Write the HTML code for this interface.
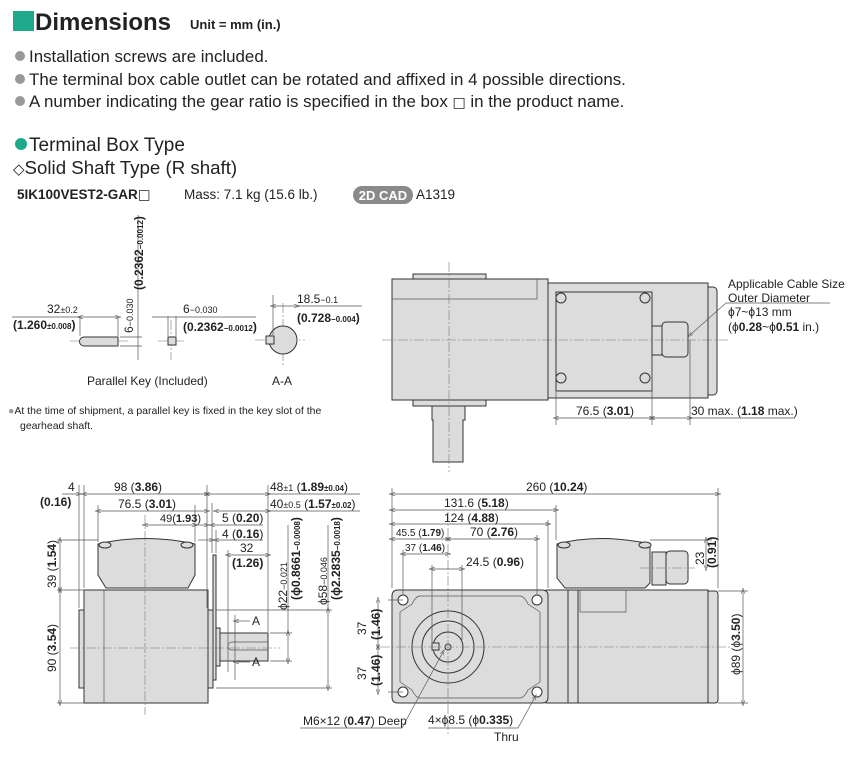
<!DOCTYPE html>
<html><head><meta charset="utf-8"><style>
body{margin:0;background:#fff;width:850px;height:780px;overflow:hidden}
svg{display:block}
.t{font-family:"Liberation Sans Narrow","Liberation Sans",sans-serif;fill:#222}
.h{font-family:"Liberation Sans",sans-serif;fill:#222}
.b{font-weight:bold}
.s{fill:#dcdcdc;stroke:#333;stroke-width:1}
.l{stroke:#555;stroke-width:0.7;fill:none}
.c{stroke:#777;stroke-width:0.6;stroke-dasharray:10 2 2 2;fill:none}
.d{stroke:#555;stroke-width:0.7;fill:none;marker-start:url(#a);marker-end:url(#a)}
</style></head><body>
<svg width="850" height="780" viewBox="0 0 850 780" xmlns="http://www.w3.org/2000/svg">
<defs><marker id="a" viewBox="0 0 10 10" refX="5" refY="5" markerWidth="8" markerHeight="8" orient="auto-start-reverse"><path d="M0,2 L10,5 L0,8" fill="none" stroke="#555" stroke-width="1"/></marker></defs>

<!-- header -->
<rect x="13" y="11" width="21" height="20" fill="#1eaa8a"/>
<text x="35" y="30" class="h b" font-size="24">Dimensions</text>
<text x="190" y="29" class="h b" font-size="13">Unit = mm (in.)</text>
<g class="h" font-size="16.9">
<circle cx="20" cy="56" r="5" fill="#999"/><text x="29" y="62">Installation screws are included.</text>
<circle cx="20" cy="79" r="5" fill="#999"/><text x="29" y="85">The terminal box cable outlet can be rotated and affixed in 4 possible directions.</text>
<circle cx="20" cy="101" r="5" fill="#999"/><text x="29" y="107">A number indicating the gear ratio is specified in the box <tspan font-family="DejaVu Sans" font-size="14">□</tspan> in the product name.</text>
</g>
<circle cx="21" cy="144" r="6" fill="#1eaa8a"/>
<text x="29" y="151" class="h" font-size="19">Terminal Box Type</text>
<text x="13" y="174" class="h" font-size="18.7"><tspan font-family="DejaVu Sans" font-size="15">◇</tspan>Solid Shaft Type (R shaft)</text>
<text x="17" y="199" class="h b" font-size="13.5">5IK100VEST2-GAR<tspan font-family="DejaVu Sans" font-weight="normal">□</tspan></text>
<text x="184" y="199" class="h" font-size="13.5" fill="#444">Mass: 7.1 kg (15.6 lb.)</text>
<rect x="353" y="186" width="60" height="18" rx="9" fill="#8a8a8a"/>
<text x="383" y="200" class="h b" font-size="13" text-anchor="middle" style="fill:#fff">2D CAD</text>
<text x="416" y="199" class="h" font-size="13.5" fill="#444">A1319</text>

<!-- parallel key -->
<g class="t" font-size="12">
<line class="c" x1="70" y1="341" x2="130" y2="341"/>
<path class="s" d="M84,337 H118 V346 H84 A4.5,4.5 0 0 1 84,337 Z"/>
<line class="l" x1="80" y1="317" x2="80" y2="336"/><line class="l" x1="118" y1="317" x2="118" y2="336"/>
<line class="d" x1="80" y1="317" x2="118" y2="317"/>
<line class="l" x1="12" y1="317" x2="80" y2="317"/>
<text x="47" y="313">32<tspan font-size="9">±0.2</tspan></text>
<text x="13" y="329" class="b">(1.260<tspan font-size="8">±0.008</tspan>)</text>
<line class="l" x1="120" y1="337" x2="142" y2="337"/><line class="l" x1="120" y1="346" x2="142" y2="346"/>
<line class="l" x1="138" y1="215" x2="138" y2="360"/>
<text transform="translate(133,333) rotate(-90)">6<tspan font-size="9">−0.030</tspan></text>
<text transform="translate(143,290) rotate(-90)" class="b">(0.2362<tspan font-size="8">−0.0012</tspan>)</text>
<line class="c" x1="158" y1="341" x2="186" y2="341"/>
<line class="c" x1="171" y1="320" x2="171" y2="360"/>
<rect class="s" x="168" y="337" width="8" height="8"/>
<line class="l" x1="168" y1="316" x2="168" y2="336"/><line class="l" x1="176" y1="316" x2="176" y2="336"/>
<line class="l" x1="152" y1="317" x2="256" y2="317"/>
<text x="183" y="313">6<tspan font-size="9">−0.030</tspan></text>
<text x="183" y="331" class="b">(0.2362<tspan font-size="8">−0.0012</tspan>)</text>
<line class="c" x1="255" y1="340" x2="305" y2="340"/>
<line class="c" x1="283" y1="303" x2="283" y2="365"/>
<circle class="s" cx="283" cy="340" r="14"/>
<rect class="s" x="266" y="336" width="8" height="8"/>
<line class="l" x1="273" y1="295" x2="273" y2="335"/>
<line class="d" x1="273" y1="306" x2="297" y2="306"/>
<line class="l" x1="297" y1="306" x2="362" y2="306"/>
<text x="297" y="303">18.5<tspan font-size="9">−0.1</tspan></text>
<text x="297" y="322" class="b">(0.728<tspan font-size="8">−0.004</tspan>)</text>
<text x="87" y="385">Parallel Key (Included)</text>
<text x="272" y="385">A-A</text>
<text x="8" y="414" font-size="10.5"><tspan fill="#999">●</tspan>At the time of shipment, a parallel key is fixed in the key slot of the</text>
<text x="20" y="429" font-size="10.5">gearhead shaft.</text>
</g>

<!-- top right view -->
<g class="t" font-size="12">
<rect class="s" x="413" y="274" width="73" height="6"/>
<rect class="s" x="413" y="400" width="73" height="6"/>
<path class="s" d="M432,406 H465 V420 H463 V462 H433 V420 H432 Z"/>
<rect class="s" x="705" y="287" width="12" height="108" rx="4"/>
<rect class="s" x="546" y="283" width="162" height="115"/>
<rect class="s" x="392" y="279" width="156" height="121"/>
<path class="l" d="M392,299 H537 V279"/>
<rect class="s" x="556" y="292" width="96" height="99"/>
<g class="s"><circle cx="561" cy="298" r="5"/><circle cx="645" cy="298" r="5"/><circle cx="561" cy="378" r="5"/><circle cx="645" cy="378" r="5"/></g>
<rect class="s" x="652" y="326" width="10" height="29"/>
<rect class="s" x="662" y="322" width="26" height="35" rx="4"/>
<line class="c" x1="382" y1="340" x2="730" y2="340"/>
<line class="c" x1="449" y1="262" x2="449" y2="472"/>
<line class="l" x1="556" y1="392" x2="556" y2="425"/><line class="l" x1="652" y1="356" x2="652" y2="425"/><line class="l" x1="690" y1="340" x2="690" y2="425"/>
<line class="d" x1="556" y1="418" x2="652" y2="418"/>
<line class="d" x1="652" y1="418" x2="690" y2="418"/>
<line class="l" x1="690" y1="418" x2="795" y2="418"/>
<text x="576" y="415">76.5 (<tspan class="b">3.01</tspan>)</text>
<text x="691" y="415">30 max. (<tspan class="b">1.18</tspan> max.)</text>
<line class="l" x1="690" y1="335" x2="726" y2="303" marker-start="url(#a)"/>
<line class="l" x1="726" y1="303" x2="830" y2="303"/>
<text x="728" y="288">Applicable Cable Size</text>
<text x="728" y="302">Outer Diameter</text>
<text x="728" y="316">ϕ7~ϕ13 mm</text>
<text x="728" y="331">(ϕ<tspan class="b">0.28</tspan>~ϕ<tspan class="b">0.51</tspan> in.)</text>
</g>

<!-- bottom left side view -->
<g class="t" font-size="12">
<path class="s" d="M98,544 Q145,533 195,544 V575 L188,588 H106 L98,575 Z"/>
<ellipse class="s" cx="105" cy="545" rx="6" ry="3"/><ellipse class="s" cx="187" cy="545" rx="6" ry="3"/>
<rect class="s" x="79" y="610" width="6" height="78"/>
<rect class="s" x="207" y="610" width="6" height="78"/>
<rect class="s" x="213" y="555" width="3" height="125"/>
<rect class="s" x="84" y="590" width="124" height="113"/>
<line class="l" x1="104" y1="590" x2="104" y2="703"/>
<rect class="s" x="216" y="628" width="4" height="38"/>
<rect class="s" x="220" y="633" width="48" height="28"/>
<path class="l" d="M268,642 H232 A4,4 0 0 0 232,650 H268"/>
<line class="c" x1="145" y1="515" x2="145" y2="715"/>
<line class="c" x1="70" y1="648" x2="280" y2="648"/>
<line class="l" x1="79" y1="485" x2="79" y2="608"/><line class="l" x1="84" y1="485" x2="84" y2="588"/>
<line class="l" x1="207" y1="485" x2="207" y2="608"/><line class="l" x1="212" y1="503" x2="212" y2="553"/><line class="l" x1="216" y1="530" x2="216" y2="553"/>
<line class="l" x1="268" y1="485" x2="268" y2="632"/><line class="l" x1="228" y1="550" x2="228" y2="672"/>
<line class="l" x1="98" y1="505" x2="98" y2="542"/><line class="l" x1="195" y1="505" x2="195" y2="542"/>
<line class="l" x1="57" y1="540" x2="98" y2="540"/><line class="l" x1="57" y1="590" x2="84" y2="590"/><line class="l" x1="57" y1="703" x2="84" y2="703"/>
<line class="d" x1="60" y1="540" x2="60" y2="590"/><line class="d" x1="60" y1="590" x2="60" y2="703"/>
<text transform="translate(56,588) rotate(-90)">39 (<tspan class="b">1.54</tspan>)</text>
<text transform="translate(56,672) rotate(-90)">90 (<tspan class="b">3.54</tspan>)</text>
<line class="l" x1="62" y1="494" x2="79" y2="494" marker-end="url(#a)"/>
<line class="d" x1="84" y1="494" x2="207" y2="494"/>
<line class="d" x1="207" y1="494" x2="268" y2="494"/>
<line class="l" x1="268" y1="494" x2="360" y2="494"/>
<text x="68" y="491">4</text><text x="40" y="506" class="b">(0.16)</text>
<text x="114" y="491">98 (<tspan class="b">3.86</tspan>)</text>
<text x="270" y="491">48<tspan font-size="9">±1</tspan> (<tspan class="b">1.89<tspan font-size="8">±0.04</tspan></tspan>)</text>
<line class="d" x1="98" y1="511" x2="207" y2="511"/>
<line class="d" x1="216" y1="511" x2="268" y2="511"/>
<line class="l" x1="268" y1="511" x2="360" y2="511"/>
<text x="118" y="508">76.5 (<tspan class="b">3.01</tspan>)</text>
<text x="270" y="508">40<tspan font-size="9">±0.5</tspan> (<tspan class="b">1.57<tspan font-size="8">±0.02</tspan></tspan>)</text>
<line class="d" x1="145" y1="525" x2="195" y2="525"/>
<text x="160" y="522" font-size="11">49(<tspan class="b">1.93</tspan>)</text>
<line class="l" x1="195" y1="525" x2="207" y2="525" marker-end="url(#a)"/>
<line class="l" x1="212" y1="525" x2="263" y2="525" marker-start="url(#a)"/>
<text x="222" y="522">5 (<tspan class="b">0.20</tspan>)</text>
<line class="l" x1="198" y1="540" x2="212" y2="540" marker-end="url(#a)"/>
<line class="l" x1="216" y1="540" x2="263" y2="540" marker-start="url(#a)"/>
<text x="222" y="538">4 (<tspan class="b">0.16</tspan>)</text>
<line class="d" x1="228" y1="555" x2="268" y2="555"/>
<text x="240" y="552">32</text><text x="232" y="567" class="b">(1.26)</text>
<line class="l" x1="270" y1="633" x2="292" y2="633"/><line class="l" x1="270" y1="661" x2="292" y2="661"/>
<line class="d" x1="288" y1="633" x2="288" y2="661"/>
<line class="l" x1="216" y1="610" x2="332" y2="610"/><line class="l" x1="216" y1="688" x2="332" y2="688"/>
<line class="d" x1="328" y1="610" x2="328" y2="688"/>
<line class="l" x1="288" y1="525" x2="288" y2="633"/><line class="l" x1="328" y1="525" x2="328" y2="610"/>
<text transform="translate(287,610) rotate(-90)">ϕ22<tspan font-size="9">−0.021</tspan></text>
<text transform="translate(300,600) rotate(-90)" class="b">(ϕ0.8661<tspan font-size="8">−0.0008</tspan>)</text>
<text transform="translate(327,605) rotate(-90)">ϕ58<tspan font-size="9">−0.046</tspan></text>
<text transform="translate(340,600) rotate(-90)" class="b">(ϕ2.2835<tspan font-size="8">−0.0018</tspan>)</text>
<line class="l" x1="235" y1="615" x2="235" y2="680"/>
<line class="l" x1="250" y1="621" x2="236" y2="621" marker-end="url(#a)"/>
<line class="l" x1="250" y1="662" x2="236" y2="662" marker-end="url(#a)"/>
<text x="252" y="625">A</text><text x="252" y="666">A</text>
<text x="303" y="725">M6×12 (<tspan class="b">0.47</tspan>) Deep</text>
<line class="l" x1="300" y1="728" x2="402" y2="728"/>
</g>

<!-- bottom right front view -->
<g class="t" font-size="12">
<rect class="s" x="707" y="591" width="11" height="112" rx="3"/>
<rect class="s" x="546" y="590" width="162" height="113"/>
<rect class="s" x="568" y="590" width="10" height="113"/>
<path class="l" d="M580,590 V612 H626 V590"/>
<path class="s" d="M557,544 Q600,533 650,544 V583 L645,588 H565 L557,578 Z"/>
<ellipse class="s" cx="564" cy="545" rx="6" ry="3"/><ellipse class="s" cx="645" cy="545" rx="6" ry="3"/>
<rect class="s" x="652" y="552" width="14" height="33"/>
<rect class="s" x="666" y="551" width="22" height="33" rx="4"/>
<path class="s" d="M398,590 H542 Q548,590 548,596 V697 Q548,703 542,703 H398 Q392,703 392,697 V596 Q392,590 398,590 Z"/>
<path class="l" d="M420,596 H520 Q524,596 528,604 L540,612 V682 L528,690 Q524,698 520,698 H420 Q416,698 412,690 L400,682 V612 L412,604 Q416,596 420,596 Z"/>
<g class="s"><circle cx="403" cy="600" r="5" fill="#fff"/><circle cx="537" cy="600" r="5" fill="#fff"/><circle cx="403" cy="692" r="5" fill="#fff"/><circle cx="537" cy="692" r="5" fill="#fff"/></g>
<circle class="s" cx="448" cy="647" r="36"/>
<circle class="s" cx="448" cy="647" r="26"/>
<circle class="s" cx="448" cy="647" r="15" stroke-width="2"/>
<rect class="s" x="432" y="643" width="7" height="7"/>
<circle class="s" cx="448" cy="647" r="3"/>
<line class="c" x1="380" y1="647" x2="730" y2="647"/>
<line class="c" x1="448" y1="512" x2="448" y2="735"/>
<line class="c" x1="640" y1="568" x2="695" y2="568"/>
<line class="l" x1="392" y1="488" x2="392" y2="588"/><line class="l" x1="718" y1="488" x2="718" y2="588"/>
<line class="l" x1="556" y1="505" x2="556" y2="540"/><line class="l" x1="548" y1="520" x2="548" y2="588"/>
<line class="l" x1="537" y1="535" x2="537" y2="595"/><line class="l" x1="403" y1="550" x2="403" y2="595"/>
<line class="l" x1="432" y1="565" x2="432" y2="645"/><line class="l" x1="462" y1="565" x2="462" y2="640"/>
<line class="d" x1="392" y1="494" x2="718" y2="494"/>
<text x="526" y="491">260 (<tspan class="b">10.24</tspan>)</text>
<line class="d" x1="392" y1="510" x2="556" y2="510"/>
<text x="444" y="507">131.6 (<tspan class="b">5.18</tspan>)</text>
<line class="d" x1="392" y1="524" x2="548" y2="524"/>
<text x="444" y="522">124 (<tspan class="b">4.88</tspan>)</text>
<line class="d" x1="392" y1="539" x2="448" y2="539"/><line class="d" x1="448" y1="539" x2="537" y2="539"/>
<text x="396" y="536" font-size="10">45.5 (<tspan class="b">1.79</tspan>)</text>
<text x="470" y="536">70 (<tspan class="b">2.76</tspan>)</text>
<line class="d" x1="403" y1="554" x2="448" y2="554"/>
<text x="405" y="551" font-size="10">37 (<tspan class="b">1.46</tspan>)</text>
<line class="d" x1="432" y1="569" x2="462" y2="569"/>
<text x="466" y="566">24.5 (<tspan class="b">0.96</tspan>)</text>
<line class="l" x1="650" y1="540" x2="712" y2="540"/>
<line class="d" x1="706" y1="540" x2="706" y2="568"/>
<text transform="translate(704,565) rotate(-90)">23</text>
<text transform="translate(716,568) rotate(-90)" class="b">(0.91)</text>
<line class="l" x1="718" y1="591" x2="748" y2="591"/><line class="l" x1="718" y1="703" x2="748" y2="703"/>
<line class="d" x1="743" y1="591" x2="743" y2="703"/>
<text transform="translate(740,675) rotate(-90)">ϕ89 (ϕ<tspan class="b">3.50</tspan>)</text>
<line class="l" x1="388" y1="600" x2="403" y2="600"/><line class="l" x1="388" y1="692" x2="403" y2="692"/>
<line class="d" x1="378" y1="600" x2="378" y2="647"/><line class="d" x1="378" y1="647" x2="378" y2="692"/>
<text transform="translate(366,635) rotate(-90)">37</text>
<text transform="translate(380,640) rotate(-90)" class="b">(1.46)</text>
<text transform="translate(366,680) rotate(-90)">37</text>
<text transform="translate(380,686) rotate(-90)" class="b">(1.46)</text>
<line class="l" x1="402" y1="728" x2="443" y2="652" marker-end="url(#a)"/>
<text x="428" y="724">4×ϕ8.5 (ϕ<tspan class="b">0.335</tspan>)</text>
<line class="l" x1="428" y1="728" x2="518" y2="728"/>
<line class="l" x1="518" y1="728" x2="535" y2="697" marker-end="url(#a)"/>
<text x="494" y="741">Thru</text>
</g>
</svg>
</body></html>
